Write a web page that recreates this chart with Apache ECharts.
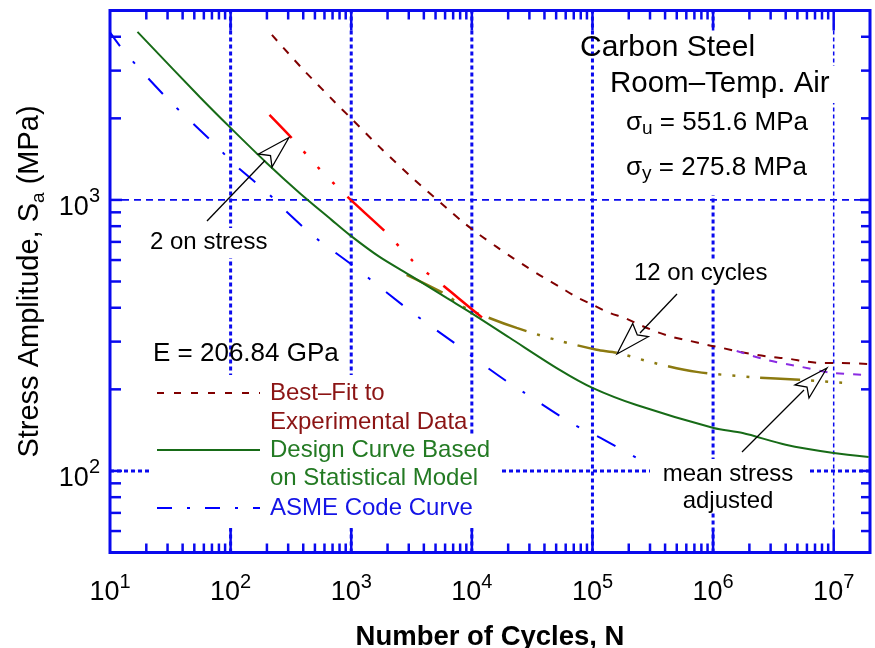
<!DOCTYPE html>
<html>
<head>
<meta charset="utf-8">
<title>Carbon Steel S–N Curves</title>
<script src="https://cdn.jsdelivr.net/npm/echarts@6.0.0/dist/echarts.min.js"></script>
<style>
  html, body { margin: 0; padding: 0; background: #ffffff; }
  #chart { width: 875px; height: 648px; }
</style>
</head>
<body>
<div id="chart"></div>
<script>
// ---------------- Fatigue data: stress amplitude (MPa) vs. cycles N ----------------
// Best-fit curve to the experimental data
const bestFitN = [220, 388, 729, 970, 1821, 3355, 6180, 8390, 11600, 16060, 21800, 28500, 38600,
                  53500, 71200, 100400, 138800, 184900, 246300, 340700, 462400, 639700, 885000,
                  1.2e6, 1.66e6, 2.3e6, 3.12e6, 4.32e6, 5.97e6, 8.11e6, 1.12e7, 2.0e7];
const bestFitS = [4064, 3070, 2299, 2025, 1529, 1185, 934, 830, 743, 671, 611, 566, 520,
                  478, 442, 410, 383, 367, 346, 326, 312, 302, 292,
                  284, 275, 268, 263, 259, 253, 250, 250, 248];

// Design curve based on the statistical model
const designN = [16.9, 55.5, 100, 199, 373, 687, 969, 1718, 3229, 6180, 10140, 20580, 53460,
                 100000, 232000, 1.01e6, 1.76e6, 4.0e6, 1.0e7, 1.95e7];
const designS = [4169, 2399, 1844, 1369, 1061, 844, 743, 616, 520, 435, 380, 310, 236,
                 202.5, 175, 144, 138, 125, 116.5, 112.6];

// ASME code design curve
const asmeN = [10, 13.2, 31.2, 78, 104, 199, 270, 497, 968, 3160, 7925, 10970, 19800, 27400,
               67300, 126000, 315000];
const asmeS = [4150, 3517, 2319, 1569, 1369, 1070, 934, 730, 585, 386, 287, 257, 213, 194,
               150, 130, 103.5];

// Best fit reduced by a factor of 2 on stress
const stressFactorN = [210, 320, 526, 933, 1966, 3228, 5950, 12290, 16060];
const stressFactorS = [2059, 1694, 1324, 1026, 755, 596, 478, 367, 337];

// Best fit reduced by a factor of 12 on cycles
const cycleFactorN = [2880, 6180, 8230, 13270, 23530, 50500, 108300, 158800, 328000, 731000,
                      2.09e6, 5.22e6, 1.31e7];
const cycleFactorS = [529, 446, 406, 370, 337, 304, 280, 273, 250, 232, 222, 217, 211];

// Best fit adjusted for mean stress
const meanStressN = [1.57e6, 2.77e6, 5.41e6, 9.77e6, 2.0e7];
const meanStressS = [277, 257, 242, 230, 226];

// Decade exponents that carry a "10^k" tick label
const xLabelExponents = [1, 2, 3, 4, 5, 6, 7];
const yLabelExponents = [2, 3];

// ---------------- Axis ranges and styling ----------------
const X_MIN = 10, X_MAX = 2e7, Y_MIN = 50, Y_MAX = 5000;
const FRAME = '#0a0aee';
const FONT = '"Liberation Sans", Arial, Helvetica, sans-serif';

const zip = (xs, ys) => xs.map((x, i) => [x, ys[i]]);

function decadeLabel(exps) {
  return function (v) {
    const l = Math.log10(v);
    const e = Math.round(l);
    if (Math.abs(l - e) > 1e-6 || exps.indexOf(e) < 0) return '';
    return '{b|10}{s|' + e + '}';
  };
}
const tickRich = {
  b: { fontFamily: FONT, fontSize: 27, lineHeight: 34, color: '#000', verticalAlign: 'bottom' },
  s: { fontFamily: FONT, fontSize: 20, lineHeight: 23, color: '#000', verticalAlign: 'top' }
};

// tick positions on the log axes
function decadesInside(lo, hi) {
  const out = [];
  for (let k = Math.ceil(Math.log10(lo)); Math.pow(10, k) <= hi; k++) {
    const v = Math.pow(10, k);
    if (v > lo && v < hi) out.push(v);
  }
  return out;
}
function minorInside(lo, hi) {
  const out = [];
  for (let k = Math.floor(Math.log10(lo)); Math.pow(10, k) < hi; k++) {
    for (let m = 2; m <= 9; m++) {
      const v = m * Math.pow(10, k);
      if (v > lo * 1.0001 && v < hi * 0.9999) out.push(v);
    }
  }
  return out;
}
const xTickData = decadesInside(X_MIN, X_MAX).map(v => [v, Y_MIN, 1])
  .concat(minorInside(X_MIN, X_MAX).map(v => [v, Y_MIN, 0]));
const yTickData = decadesInside(Y_MIN, Y_MAX).map(v => [X_MIN, v, 1])
  .concat(minorInside(Y_MIN, Y_MAX).map(v => [X_MIN, v, 0]));

// grid lines at decades: style 0 = heavy dotted, 1 = light dotted, 2 = light dashed
const vGridData = [[1e2, Y_MIN, 0], [1e3, Y_MIN, 0], [1e4, Y_MIN, 0], [1e5, Y_MIN, 0], [1e6, Y_MIN, 0], [1e7, Y_MIN, 1]];
const hGridData = [[X_MIN, 100, 0], [X_MIN, 1000, 2]];
const gridStyles = [
  { stroke: FRAME, lineWidth: 3, lineDash: [4, 3] },
  { stroke: FRAME, lineWidth: 1.5, lineDash: [4, 3] },
  { stroke: FRAME, lineWidth: 1.6, lineDash: [7, 5] }
];

function curve(name, xs, ys, color, width, dash, offset) {
  return {
    type: 'line', name: name, data: zip(xs, ys), symbol: 'none', showSymbol: false,
    smooth: 0.3, silent: true, z: 3,
    lineStyle: { color: color, width: width, type: dash || 'solid', dashOffset: offset || 0 }
  };
}

// ---------------- Annotations, legend, text ----------------
function txt(x, y, text, size, color, align, extra) {
  return Object.assign({
    type: 'text', x: x, y: y, z: 5, silent: true,
    style: { text: text, font: size + 'px ' + FONT, fill: color || '#000',
             align: align || 'left', verticalAlign: 'middle' }
  }, extra || {});
}
function box(x, y, w, h) {
  return { type: 'rect', z: 2, silent: true, shape: { x: x, y: y, width: w, height: h },
           style: { fill: '#ffffff', stroke: null } };
}
function arrow(tail, joint, tip, barbA, notch, barbB) {
  return [
    { type: 'polyline', z: 5, silent: true, shape: { points: [tail, joint] },
      style: { stroke: '#000', lineWidth: 1.3, fill: null } },
    { type: 'polygon', z: 5, silent: true, shape: { points: [tip, barbA, notch, barbB] },
      style: { stroke: '#000', lineWidth: 1.3, fill: 'none', lineJoin: 'miter' } }
  ];
}
function sample(y, color, dash) {
  return { type: 'line', z: 5, silent: true, shape: { x1: 157, y1: y, x2: 260, y2: y },
           style: { stroke: color, lineWidth: 2, lineDash: dash || null } };
}
const sigmaRich = {
  g: { font: '26px ' + FONT, lineHeight: 30, verticalAlign: 'middle' },
  sub: { font: '19px ' + FONT, lineHeight: 12, verticalAlign: 'bottom' },
  t: { font: '26px ' + FONT, lineHeight: 30, verticalAlign: 'middle' }
};

const graphics = [
  // paper-white backing behind the text blocks
  box(597, 28, 218, 167), box(605, 66, 232, 37),
  box(147, 228, 124, 30), box(630, 261, 139, 27),
  box(150, 375, 318, 61), box(150, 436, 350, 92),
  box(650, 459, 158, 54),

  txt(580, 48, 'Carbon Steel', 30),
  txt(610, 84, 'Room\u2013Temp. Air', 29.5),
  { type: 'text', x: 626, y: 123, z: 5, silent: true,
    style: { text: '{g|σ}{sub|u}{t| = 551.6 MPa}', rich: sigmaRich, fill: '#000', align: 'left', verticalAlign: 'middle' } },
  { type: 'text', x: 626, y: 168, z: 5, silent: true,
    style: { text: '{g|σ}{sub|y}{t| = 275.8 MPa}', rich: sigmaRich, fill: '#000', align: 'left', verticalAlign: 'middle' } },

  txt(153, 354, 'E = 206.84 GPa', 26),
  txt(150, 242, '2 on stress', 24),
  txt(634, 273, '12 on cycles', 24),
  txt(728, 474, 'mean stress', 24, '#000', 'center'),
  txt(728, 501, 'adjusted', 24, '#000', 'center'),

  // legend
  sample(393, '#800000', [7, 10]),
  sample(450, '#176b17'),
  sample(508, '#0000ff', [15, 15, 3, 15]),
  txt(270, 393, 'Best\u2013Fit to', 24, '#8b1414'),
  txt(270, 422, 'Experimental Data', 24, '#8b1414'),
  txt(270, 450, 'Design Curve Based', 24, '#237a23'),
  txt(270, 478, 'on Statistical Model', 24, '#237a23'),
  txt(270, 508, 'ASME Code Curve', 24, '#1414e6')
].concat(
  arrow([207, 221], [265, 160.5], [289, 137.5], [258.5, 154], [270.5, 155.5], [272, 167]),
  arrow([677, 294], [640, 333], [617, 354], [632.7, 323.5], [637.3, 335], [648.3, 336.7]),
  arrow([742, 452], [804, 390], [827, 368], [795, 385], [807, 387], [809, 398])
);

// ---------------- Chart ----------------
const chart = echarts.init(document.getElementById('chart'), null, { renderer: 'canvas' });

const option = {
  animation: false,
  backgroundColor: '#ffffff',
  grid: {
    left: 110, right: 5, top: 10.5, bottom: 95.5,
    show: true, borderColor: FRAME, borderWidth: 3, backgroundColor: 'transparent',
    containLabel: false, outerBoundsMode: 'none'
  },
  xAxis: {
    type: 'log', logBase: 10, min: X_MIN, max: X_MAX, splitNumber: 7,
    axisLine: { show: false }, axisTick: { show: false }, splitLine: { show: false },
    axisLabel: { margin: 20, formatter: decadeLabel(xLabelExponents), rich: tickRich },
    name: 'Number of Cycles, N', nameLocation: 'middle', nameGap: 70,
    nameTextStyle: { fontFamily: FONT, fontSize: 27.5, fontWeight: 'bold', color: '#000', lineHeight: 30 }
  },
  yAxis: {
    type: 'log', logBase: 10, min: Y_MIN, max: Y_MAX, splitNumber: 2,
    axisLine: { show: false }, axisTick: { show: false }, splitLine: { show: false },
    axisLabel: { margin: 10, padding: [8, 0, 0, 0], formatter: decadeLabel(yLabelExponents), rich: tickRich },
    name: '{t|Stress Amplitude, S}{sub|a}{t| (MPa)}', nameLocation: 'middle', nameGap: 62, nameRotate: 90,
    nameTextStyle: {
      color: '#000',
      rich: {
        t: { fontFamily: FONT, fontSize: 29, lineHeight: 36, color: '#000', verticalAlign: 'middle' },
        sub: { fontFamily: FONT, fontSize: 19, lineHeight: 14, color: '#000', verticalAlign: 'bottom' }
      }
    }
  },
  graphic: { elements: graphics },
  series: [
    // decade grid lines
    {
      type: 'custom', z: 1, silent: true, data: vGridData,
      renderItem: function (params, api) {
        const v = api.value(0);
        const a = api.coord([v, Y_MIN]), b = api.coord([v, Y_MAX]);
        return { type: 'line', shape: { x1: a[0], y1: a[1], x2: b[0], y2: b[1] },
                 style: gridStyles[api.value(2)] };
      }
    },
    {
      type: 'custom', z: 1, silent: true, data: hGridData,
      renderItem: function (params, api) {
        const v = api.value(1);
        const a = api.coord([X_MIN, v]), b = api.coord([X_MAX, v]);
        return { type: 'line', shape: { x1: a[0], y1: a[1], x2: b[0], y2: b[1] },
                 style: gridStyles[api.value(2)] };
      }
    },
    curve('Best-Fit to Experimental Data', bestFitN, bestFitS, '#800000', 2, [8, 9]),
    curve('Mean stress adjusted', meanStressN, meanStressS, '#8a2be2', 2, [8, 9]),
    curve('12 on cycles', cycleFactorN, cycleFactorS, '#8c7a10', 2.5, [40, 11, 3, 11, 3, 11, 3, 11]),
    curve('2 on stress', stressFactorN, stressFactorS, '#ff0000', 2.5, [50, 18, 3, 18, 3, 18, 3, 18], 18),
    curve('ASME Code Curve', asmeN, asmeS, '#0000ff', 2, [21, 20, 3, 20], 4),
    curve('Design Curve Based on Statistical Model', designN, designS, '#176b17', 2),
    // inward tick marks on all four sides
    {
      type: 'custom', z: 4, silent: true, data: xTickData,
      renderItem: function (params, api) {
        const v = api.value(0), major = api.value(2) === 1;
        const bot = api.coord([v, Y_MIN]), top = api.coord([v, Y_MAX]);
        const lb = major ? 23 : 9, lt = major ? 20 : 9;
        const st = { stroke: FRAME, lineWidth: 2.5 };
        return { type: 'group', children: [
          { type: 'line', shape: { x1: bot[0], y1: bot[1], x2: bot[0], y2: bot[1] - lb }, style: st },
          { type: 'line', shape: { x1: top[0], y1: top[1], x2: top[0], y2: top[1] + lt }, style: st }
        ] };
      }
    },
    {
      type: 'custom', z: 4, silent: true, data: yTickData,
      renderItem: function (params, api) {
        const v = api.value(1), major = api.value(2) === 1;
        const l = api.coord([X_MIN, v]), r = api.coord([X_MAX, v]);
        const ll = major ? 12 : 11, lr = major ? 10 : 9;
        const st = { stroke: FRAME, lineWidth: 2.5 };
        return { type: 'group', children: [
          { type: 'line', shape: { x1: l[0], y1: l[1], x2: l[0] + ll, y2: l[1] }, style: st },
          { type: 'line', shape: { x1: r[0], y1: r[1], x2: r[0] - lr, y2: r[1] }, style: st }
        ] };
      }
    }
  ]
};

chart.setOption(option);
</script>
</body>
</html>
